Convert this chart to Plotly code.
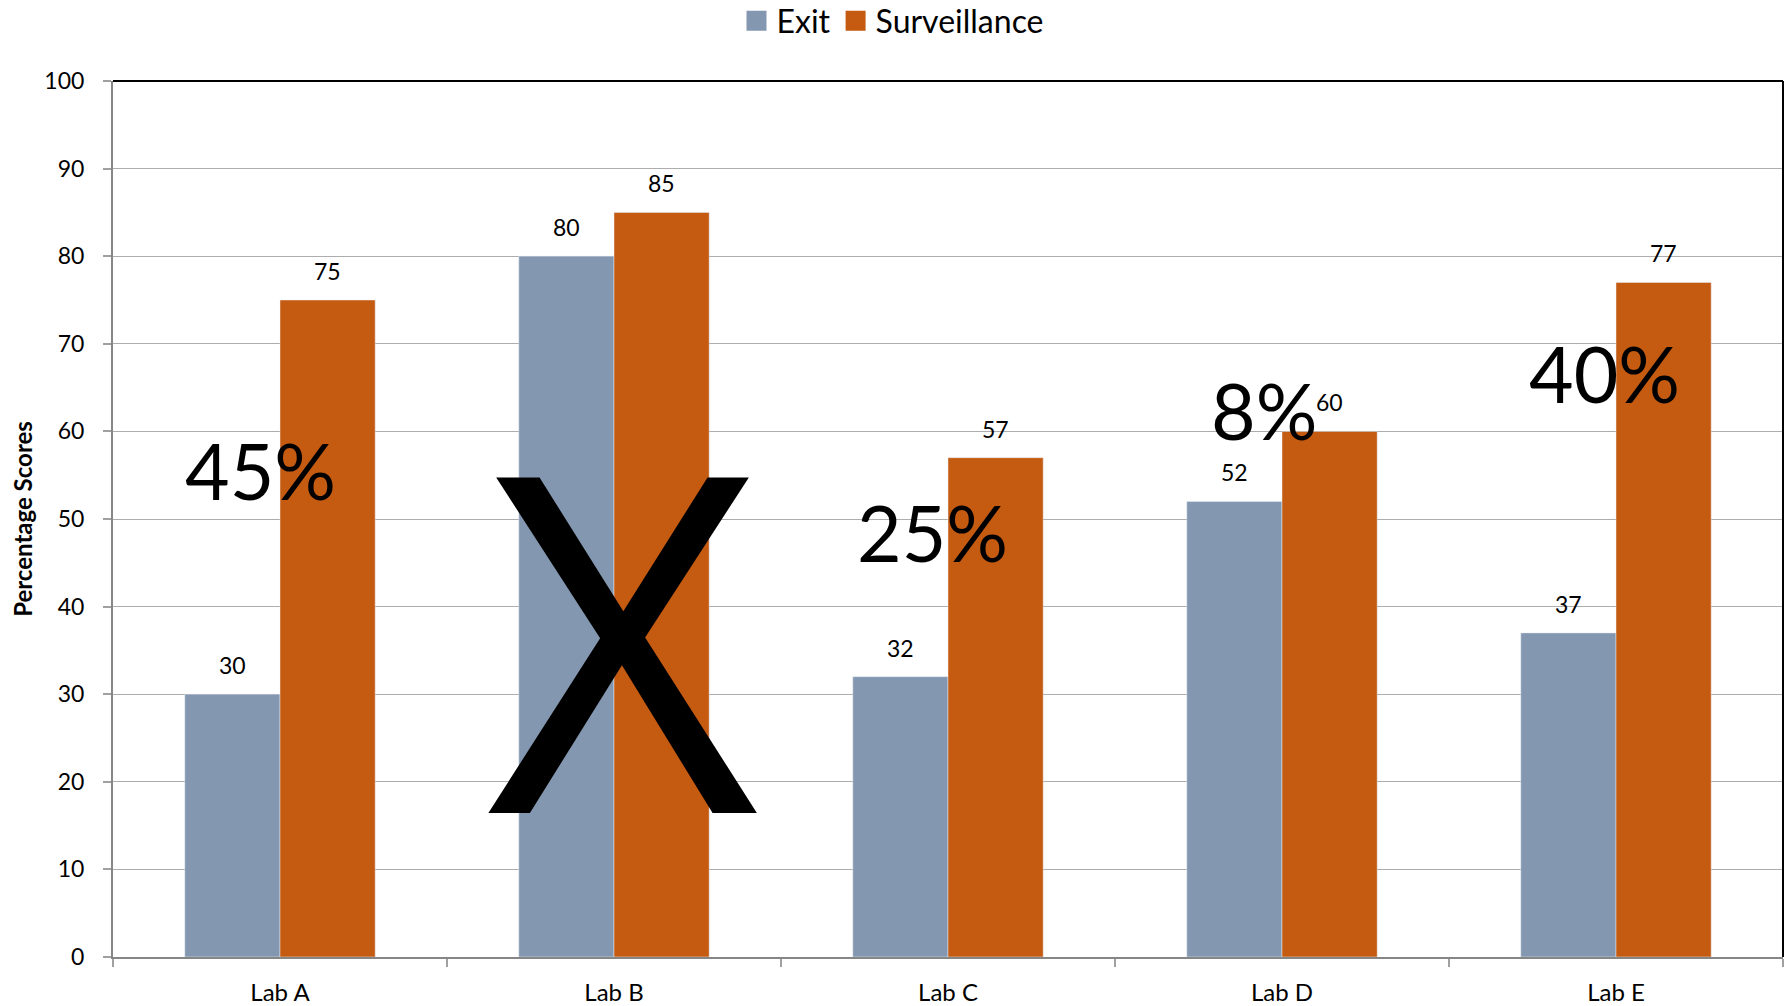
import plotly.graph_objects as go

# Lab scores
labs = ["Lab A", "Lab B", "Lab C", "Lab D", "Lab E"]
exit_scores = [30, 80, 32, 52, 37]
surveillance_scores = [75, 85, 57, 60, 77]

# Large overlay marks: text, category, y level
overlay_text = ["45%", "X", "25%", "8%", "40%"]
overlay_y = [55.6, 37.2, 48.5, 62.4, 66.7]
overlay_xshift = [-20, 9, -16, -18, -12]
overlay_size = [77, 470, 77, 77, 77]
overlay_font = ["Lato", "Open Sans", "Lato", "Lato", "Lato"]

EXIT_COLOR = "#8497B0"
SURV_COLOR = "#C55A11"
FONT = "Lato"

W, H = 1786, 1006
M_L, M_R, M_T, M_B = 113, 3, 81, 49
BARGAP = 0.43

fig = go.Figure()
fig.add_bar(x=labs, y=exit_scores, name="Exit", marker_color=EXIT_COLOR,
            showlegend=False)
fig.add_bar(x=labs, y=surveillance_scores, name="Surveillance",
            marker_color=SURV_COLOR, showlegend=False)

# legend entries with larger square swatches
for name, col in [("Exit", EXIT_COLOR), ("Surveillance", SURV_COLOR)]:
    fig.add_scatter(x=[None], y=[None], mode="markers", name=name,
                    marker=dict(symbol="square", size=20, color=col,
                                line=dict(color=col, width=4)))

# value labels above each bar
plot_w = W - M_L - M_R
cat_w = plot_w / len(labs)
bar_off = (1 - BARGAP) * cat_w / 4
annotations = []
for lab, e, s in zip(labs, exit_scores, surveillance_scores):
    for val, sh in [(e, -bar_off), (s, bar_off)]:
        annotations.append(dict(x=lab, y=val, text=str(val), showarrow=False,
                                xshift=sh, yshift=13, yanchor="bottom",
                                font=dict(family=FONT, size=23, color="#000")))

for lab, txt, yv, xs, fs, ff in zip(labs, overlay_text, overlay_y,
                                    overlay_xshift, overlay_size, overlay_font):
    annotations.append(dict(x=lab, y=yv, text=txt, showarrow=False,
                            xshift=xs, yanchor="middle", xanchor="center",
                            font=dict(family=ff, size=fs, color="#000")))

fig.update_layout(
    width=W, height=H,
    margin=dict(l=M_L, r=M_R, t=M_T, b=M_B),
    paper_bgcolor="white", plot_bgcolor="white",
    barmode="group", bargap=BARGAP, bargroupgap=0,
    font=dict(family=FONT, size=22, color="#000"),
    legend=dict(orientation="h", x=(W / 2 - M_L) / plot_w, xanchor="center",
                yref="container", y=1 - 21 / H, yanchor="middle",
                font=dict(family=FONT, size=32, color="#000"),
                itemwidth=30, tracegroupgap=0),
    annotations=annotations,
    shapes=[
        dict(type="line", xref="paper", yref="paper", x0=0, x1=1, y0=1, y1=1,
             line=dict(color="#000", width=2)),
        dict(type="line", xref="paper", yref="paper", x0=1, x1=1, y0=0, y1=1,
             line=dict(color="#000", width=2)),
    ],
)

fig.update_xaxes(
    automargin=False,
    showline=True, linecolor="#868686", linewidth=2,
    ticks="outside", tickson="boundaries", ticklen=8, tickcolor="#A0A0A0",
    tickwidth=1.5, ticklabelstandoff=13,
    tickfont=dict(family=FONT, size=24, color="#000"),
    showgrid=False,
)
fig.update_yaxes(
    automargin=False,
    range=[0, 100], dtick=10,
    showline=True, linecolor="#868686", linewidth=2,
    ticks="outside", ticklen=8, tickcolor="#A0A0A0", tickwidth=1.5,
    ticklabelstandoff=14,
    tickfont=dict(family=FONT, size=23, color="#000"),
    showgrid=True, gridcolor="#ADADAD", gridwidth=1.3,
    zeroline=False,
    title=dict(text="<b>Percentage Scores</b>", standoff=5,
               font=dict(family=FONT, size=24, color="#000")),
)

fig.write_html("out.html")
